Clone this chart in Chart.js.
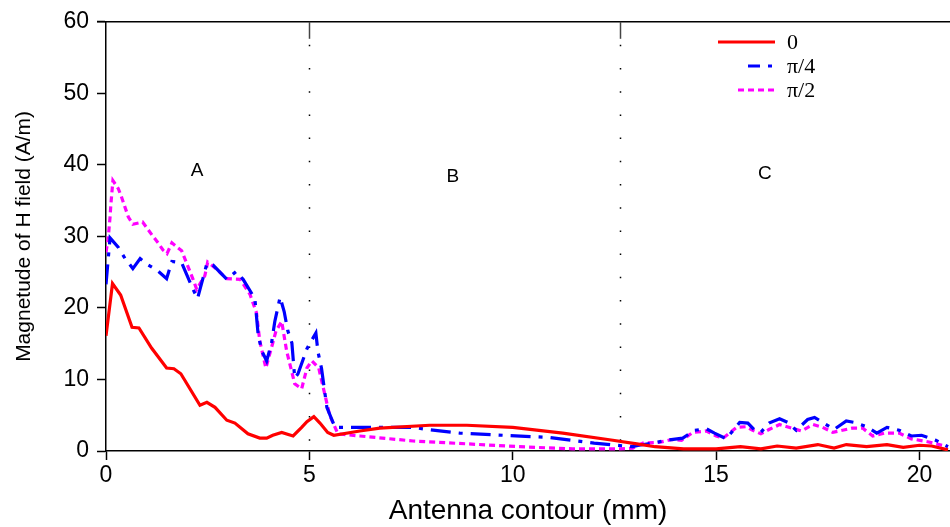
<!DOCTYPE html>
<html>
<head>
<meta charset="utf-8">
<script src="https://cdn.jsdelivr.net/npm/chart.js@4.4.1/dist/chart.umd.min.js"></script>
<style>
  html, body { margin: 0; padding: 0; background: #fff; }
  #wrap { width: 950px; height: 527px; position: relative; }
</style>
</head>
<body>
<div id="wrap"><canvas id="chart"></canvas></div>
<script>
// phase 0
const phi0X = [0, 0.16, 0.36, 0.64, 0.81, 1.12, 1.49, 1.67, 1.84, 2.31, 2.48, 2.68, 2.97, 3.17, 3.49, 3.78, 3.95, 4.1, 4.32, 4.6, 4.81, 4.94, 5.11, 5.26, 5.45, 5.6, 6.24, 6.73, 7.96, 8.87, 10.0, 11.23, 12.46, 13.05, 13.5, 14.2, 15.0, 15.6, 16.1, 16.5, 16.97, 17.5, 17.9, 18.2, 18.7, 19.2, 19.6, 20.0, 20.3, 20.7];
const phi0Y = [16.1, 23.4, 21.8, 17.3, 17.2, 14.4, 11.6, 11.5, 10.8, 6.4, 6.8, 6.1, 4.3, 3.9, 2.4, 1.8, 1.8, 2.2, 2.6, 2.1, 3.3, 4.1, 4.8, 3.9, 2.6, 2.2, 2.8, 3.2, 3.6, 3.6, 3.3, 2.5, 1.5, 1.0, 0.6, 0.3, 0.3, 0.6, 0.3, 0.7, 0.4, 0.9, 0.4, 0.9, 0.6, 0.9, 0.5, 0.8, 0.7, 0.15];

// phase pi/4
const phi4X = [0, 0.1, 0.3, 0.47, 0.66, 0.84, 1.04, 1.25, 1.49, 1.62, 1.86, 1.99, 2.14, 2.25, 2.48, 2.63, 2.97, 3.2, 3.37, 3.66, 3.74, 3.83, 3.95, 4.07, 4.15, 4.28, 4.38, 4.47, 4.57, 4.64, 4.72, 4.94, 5.16, 5.21, 5.3, 5.43, 5.63, 6.49, 7.55, 7.9, 8.7, 9.76, 10.9, 12.0, 12.95, 13.1, 13.44, 13.78, 14.18, 14.47, 14.76, 14.96, 15.25, 15.58, 15.78, 15.95, 16.1, 16.3, 16.56, 16.76, 16.97, 17.25, 17.42, 17.62, 17.9, 18.2, 18.4, 18.7, 18.95, 19.2, 19.5, 19.8, 20.05, 20.4, 20.7];
const phi4Y = [23.3, 29.8, 28.5, 26.9, 25.5, 26.9, 26.0, 25.3, 24.1, 26.5, 26.3, 24.6, 22.6, 21.3, 26.2, 26.0, 24.0, 25.1, 24.0, 21.3, 16.3, 14.0, 12.6, 15.1, 18.1, 21.5, 19.5, 16.8, 15.1, 10.2, 10.8, 14.3, 16.5, 13.9, 11.5, 6.1, 3.3, 3.3, 3.3, 3.0, 2.5, 2.2, 1.9, 1.1, 0.6, 0.8, 1.1, 1.5, 1.8, 2.9, 3.1, 2.5, 1.7, 4.0, 3.9, 2.9, 2.6, 3.9, 4.5, 4.0, 2.9, 4.4, 4.7, 4.0, 3.0, 4.2, 4.0, 3.4, 2.5, 3.3, 2.9, 2.1, 2.2, 1.5, 0.6];

// phase pi/2
const phi2X = [0, 0.05, 0.1, 0.12, 0.17, 0.3, 0.37, 0.55, 0.66, 0.9, 1.13, 1.28, 1.4, 1.5, 1.62, 1.86, 2.14, 2.23, 2.43, 2.5, 2.7, 2.97, 3.3, 3.54, 3.7, 3.78, 3.93, 4.1, 4.18, 4.32, 4.44, 4.64, 4.81, 4.94, 5.06, 5.23, 5.36, 5.5, 5.7, 6.24, 7.55, 8.87, 10.17, 11.47, 12.14, 12.63, 12.95, 13.2, 13.6, 13.9, 14.15, 14.43, 14.76, 15.0, 15.17, 15.5, 15.74, 15.9, 16.1, 16.3, 16.56, 16.85, 17.1, 17.38, 17.62, 17.87, 18.35, 18.6, 18.85, 19.14, 19.5, 19.8, 20.2, 20.7];
const phi2Y = [27.8, 29.5, 32.7, 34.5, 37.8, 36.7, 35.7, 32.7, 31.7, 32.0, 30.2, 29.1, 28.1, 27.6, 29.1, 28.0, 24.0, 22.6, 24.5, 26.4, 25.5, 24.1, 24.0, 21.9, 19.3, 15.4, 11.6, 15.1, 16.8, 18.1, 14.0, 9.4, 8.7, 11.6, 12.6, 11.6, 8.4, 5.0, 2.4, 2.1, 1.4, 1.0, 0.6, 0.3, 0.3, 0.3, 0.4, 1.1, 1.2, 1.6, 1.5, 2.6, 2.8, 2.1, 1.8, 3.3, 3.4, 2.9, 2.4, 3.0, 3.7, 3.2, 2.8, 3.7, 3.3, 2.6, 3.2, 3.2, 2.1, 2.5, 2.5, 1.7, 1.3, 0.6];

const seriesLabels = ['0', 'π/4', 'π/2'];
const xTicks = [0, 5, 10, 15, 20];
const yTicks = [0, 10, 20, 30, 40, 50, 60];
const dividerX = [5, 12.63];
const regionLabels = ['A', 'B', 'C'];
const regionX = [2.24, 8.53, 16.2];
const regionY = [39.2, 38.4, 38.8];

const pts = (xs, ys) => xs.map((x, i) => ({ x: x, y: ys[i] }));

const overlay = {
  id: 'overlay',
  beforeDatasetsDraw(chart) {
    const { ctx, chartArea, scales } = chart;
    ctx.save();
    // top frame line
    ctx.strokeStyle = '#000';
    ctx.lineWidth = 1.5;
    ctx.beginPath();
    ctx.moveTo(chartArea.left - 9, chartArea.top);
    ctx.lineTo(chartArea.right, chartArea.top);
    ctx.stroke();
    // region dividers
    dividerX.forEach(v => {
      const px = Math.round(scales.x.getPixelForValue(v)) + 0.5;
      ctx.setLineDash([]);
      ctx.strokeStyle = '#444';
      ctx.lineWidth = 1.5;
      ctx.beginPath();
      ctx.moveTo(px, chartArea.top);
      ctx.lineTo(px, chartArea.top + 17);
      ctx.stroke();
      ctx.strokeStyle = '#000';
      ctx.setLineDash([1.5, 21.7]);
      ctx.beginPath();
      ctx.moveTo(px, chartArea.top + 23);
      ctx.lineTo(px, chartArea.bottom - 5);
      ctx.stroke();
    });
    ctx.setLineDash([]);
    ctx.fillStyle = '#000';
    ctx.font = '19px "Liberation Sans", Arial, sans-serif';
    ctx.textAlign = 'center';
    ctx.textBaseline = 'middle';
    regionLabels.forEach((t, i) => {
      ctx.fillText(t, scales.x.getPixelForValue(regionX[i]), scales.y.getPixelForValue(regionY[i]));
    });
    ctx.restore();
  },
  afterDatasetsDraw(chart) {
    const { ctx } = chart;
    ctx.save();
    chart.data.datasets.forEach((ds, i) => {
      const y = 42 + i * 24;
      ctx.strokeStyle = ds.borderColor;
      ctx.lineWidth = 3;
      ctx.setLineDash(ds.borderDash || []);
      ctx.lineDashOffset = i === 1 ? 8 : 0;
      ctx.beginPath();
      const x0 = i === 0 ? 718 : (i === 1 ? 748 : 738);
      ctx.moveTo(x0, y);
      ctx.lineTo(775, y);
      ctx.stroke();
      ctx.setLineDash([]);
      ctx.fillStyle = '#000';
      ctx.font = '22px "Liberation Serif", "Times New Roman", serif';
      ctx.textAlign = 'left';
      ctx.textBaseline = 'middle';
      ctx.fillText(ds.label, 787, y + 1);
    });
    ctx.restore();
  }
};

new Chart(document.getElementById('chart'), {
  type: 'line',
  data: {
    datasets: [
      { label: seriesLabels[0], data: pts(phi0X, phi0Y), borderColor: '#ff0000', borderWidth: 3.2 },
      { label: seriesLabels[1], data: pts(phi4X, phi4Y), borderColor: '#0000ff', borderWidth: 3.2, borderDash: [20, 8, 4, 8] },
      { label: seriesLabels[2], data: pts(phi2X, phi2Y), borderColor: '#ff00ff', borderWidth: 3.2, borderDash: [6, 4] }
    ]
  },
  options: {
    responsive: true,
    maintainAspectRatio: false,
    animation: false,
    elements: { point: { radius: 0 }, line: { tension: 0, borderCapStyle: 'butt' } },
    layout: { padding: { top: 18, right: 0, left: 0, bottom: 0 } },
    plugins: { legend: { display: false }, tooltip: { enabled: false } },
    scales: {
      x: {
        type: 'linear',
        min: 0,
        max: 20.75,
        afterBuildTicks: s => { s.ticks = xTicks.map(v => ({ value: v })); },
        afterFit: s => { s.height = 76; },
        border: { color: '#000', width: 1.5 },
        grid: { drawOnChartArea: false, tickLength: 9, color: '#000', tickWidth: 1.5 },
        ticks: { color: '#000', padding: 2, font: { family: '"Liberation Sans", Arial, sans-serif', size: 23 } },
        title: { display: true, text: 'Antenna contour (mm)', color: '#000', padding: { top: 0, bottom: -1 }, font: { family: '"Liberation Sans", Arial, sans-serif', size: 28 } }
      },
      y: {
        min: 0,
        max: 60,
        afterBuildTicks: s => { s.ticks = yTicks.map(v => ({ value: v })); },
        afterFit: s => { s.width = 106; },
        border: { color: '#000', width: 1.5 },
        grid: { drawOnChartArea: false, tickLength: 9, color: '#000', tickWidth: 1.5 },
        ticks: { color: '#000', padding: 8, font: { family: '"Liberation Sans", Arial, sans-serif', size: 23 } },
        title: { display: true, text: 'Magnetude of H field (A/m)', color: '#000', padding: { top: 12, bottom: 0 }, font: { family: '"Liberation Sans", Arial, sans-serif', size: 21 } }
      }
    }
  },
  plugins: [overlay]
});
</script>
</body>
</html>
